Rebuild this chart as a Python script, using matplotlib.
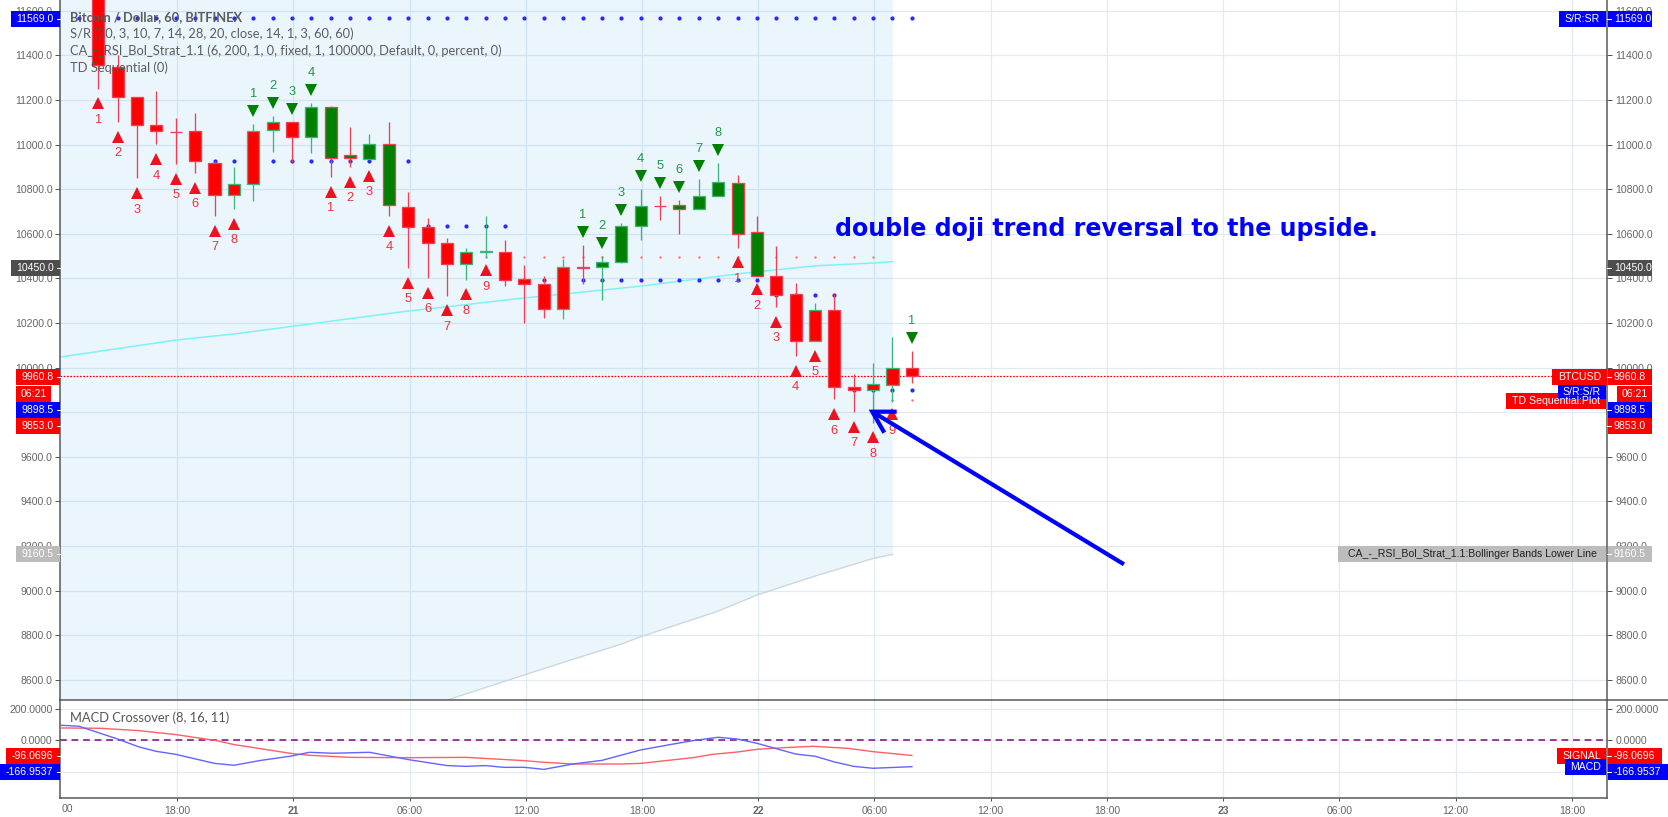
import matplotlib
matplotlib.use("Agg")
import matplotlib.pyplot as plt

W, H = 1668, 817
FONT = ["Liberation Sans", "DejaVu Sans"]
TICK_SIZE = 7.6

# hours counted from 21 00:00
candle_hours = list(range(-10, 33))
body_top = [11700, 11349, 11212, 11086, 11058, 11059, 10916, 10822, 11062, 11100, 11100, 11167, 11167, 10952, 11001, 11001,
            10721, 10632, 10557, 10520, 10521, 10520, 10396, 10373, 10452, 10450, 10475, 10636, 10726, 10725, 10727, 10771,
            10830, 10829, 10606, 10412, 10328, 10257, 10257, 9911, 9925, 9996, 9996]
body_bottom = [11357, 11212, 11086, 11059, 11054, 10925, 10772, 10772, 10822, 11064, 11034, 11034, 10938, 10938, 10934, 10727,
               10632, 10557, 10463, 10463, 10520, 10391, 10373, 10261, 10261, 10448, 10449, 10475, 10636, 10723, 10709, 10709,
               10771, 10600, 10412, 10324, 10118, 10118, 9911, 9898, 9898, 9920, 9961]
wick_high = [11700, 11401, 11212, 11240, 11119, 11140, 10925, 10901, 11091, 11128, 11100, 11188, 11173, 11079, 11047, 11101,
             10787, 10669, 10581, 10535, 10680, 10572, 10460, 10410, 10487, 10550, 10500, 10647, 10799, 10769, 10751, 10844,
             10917, 10863, 10680, 10545, 10378, 10289, 10333, 9970, 10020, 10137, 10074]
wick_low = [11250, 11103, 10851, 11001, 10914, 10874, 10681, 10711, 10748, 10967, 10923, 10964, 10856, 10901, 10934, 10681,
            10446, 10403, 10322, 10394, 10497, 10367, 10201, 10224, 10219, 10376, 10304, 10470, 10573, 10663, 10600, 10709,
            10771, 10538, 10412, 10273, 10053, 10118, 9857, 9802, 9753, 9847, 9929]
# first letter body colour, second letter border and wick colour
candle_kind = ["rr", "rr", "rr", "rr", "rr", "rr", "rr", "rg", "rg", "rg", "rr", "gg", "gr", "gr", "gg", "gr",
               "rr", "rr", "rr", "rg", "gg", "rr", "rr", "rr", "rg", "rr", "gg", "gg", "gg", "rr", "gr", "gg",
               "gg", "gr", "gr", "rr", "rr", "rg", "rr", "rr", "rg", "rg", "rr"]

# TD sequential marks
sell_hours = [-10, -9, -8, -7, -6, -5, -4, -3, 2, 3, 4, 5, 6, 7, 8, 9, 10, 23, 24, 25, 26, 27, 28, 29, 30, 31]
sell_values = [11185, 11035, 10781, 10934, 10847, 10807, 10614, 10645, 10789, 10834, 10860, 10614, 10381, 10336, 10257,
               10328, 10436, 10472, 10351, 10206, 9986, 10053, 9790, 9735, 9689, 9790]
sell_labels = ["1", "2", "3", "4", "5", "6", "7", "8", "1", "2", "3", "4", "5", "6", "7", "8", "9",
               "1", "2", "3", "4", "5", "6", "7", "8", "9"]
buy_hours = [-2, -1, 0, 1, 15, 16, 17, 18, 19, 20, 21, 22, 32]
buy_values = [11149, 11185, 11158, 11243, 10606, 10557, 10705, 10857, 10826, 10808, 10902, 10974, 10132]
buy_labels = ["1", "2", "3", "4", "1", "2", "3", "4", "5", "6", "7", "8", "1"]

# S/R dots
sr_high_hours = list(range(-11, 33))
sr_high_value = 11569
sr_levels = [(range(-4, 7), 10925), (range(6, 12), 10633), (range(12, 25), 10391), (range(25, 29), 10324), (range(29, 33), 9898)]
small_dot_levels = [(range(10, 31), 10497), (range(31, 33), 9853)]

# bollinger lines
upper_hours = [-11.9, -6, -2.75, 5.5, 12, 18, 23, 27, 30.3, 31]
upper_values = [10048, 10123, 10153, 10248, 10312, 10365, 10420, 10456, 10470, 10475]
lower_hours = [-12, 8, 12, 14, 17, 18, 22, 24, 27, 30, 31]
lower_values = [8100, 8509, 8622, 8678, 8760, 8793, 8908, 8980, 9065, 9144, 9162]
last_price = 9960.8

# MACD pane
signal_hours = [-11.9, -9.9, -7.9, -6, -3.9, -3, 0, 0.9, 3, 6, 9, 12, 13, 14.5, 17, 18, 20.7, 21.7, 23, 24, 25.5, 26.9, 28.7, 30, 32]
signal_values = [78, 76, 61, 36, -2, -27, -84, -95, -108, -110, -108, -129, -139, -150, -150, -146, -110, -89, -74, -57, -46, -38, -51, -72, -96]
macd_hours = [-11.9, -11, -9, -7.9, -7, -6, -4, -3, -1.6, 0, 0.9, 2.1, 4, 6, 8, 9, 10, 10.9, 12, 13, 14.5, 16, 18, 19.4, 20.7, 22, 23, 24, 26, 27, 28, 29, 30, 32]
macd_values = [95, 89, 8, -42, -70, -89, -146, -158, -127, -99, -76, -82, -76, -122, -160, -165, -160, -171, -171, -184, -150, -127, -61, -30, -2, 19, 8, -19, -87, -101, -137, -165, -177, -167]

price_ticks = list(range(8600, 11601, 200))
macd_ticks = [200, 0, -200]
time_ticks = [-6, 0, 6, 12, 18, 24, 30, 36, 42, 48, 54, 60, 66]
time_labels = ["18:00", "21", "06:00", "12:00", "18:00", "22", "06:00", "12:00", "18:00", "23", "06:00", "12:00", "18:00"]
legend_lines = ["Bitcoin / Dollar, 60, BITFINEX",
                "S/R (20, 3, 10, 7, 14, 28, 20, close, 14, 1, 3, 60, 60)",
                "CA_-_RSI_Bol_Strat_1.1 (6, 200, 1, 0, fixed, 1, 100000, Default, 0, percent, 0)",
                "TD Sequential (0)"]

RED = "#ff0000"
GREEN = "#008000"
EDGE = {"r": "#ee3f55", "g": "#3fb37c"}
FILL = {"r": RED, "g": GREEN}
BLUE = "#0000ff"
GRID = "#e1ebf1"
SPINE = "#555555"
TICK = "#666666"
GRID_SHIFT = 0.07  # time grid sits a pixel right of the candle centres
XLIM = (-11.95, 67.9)


def px(p):
    return p * 0.72


fig = plt.figure(figsize=(W / 100, H / 100), dpi=100, facecolor="white")
ax = fig.add_axes([60.5 / W, 1 - 700.3 / H, (1607.3 - 60.5) / W, 700.3 / H])
ax2 = fig.add_axes([60.5 / W, 1 - 798.3 / H, (1607.3 - 60.5) / W, 98 / H])

for a in (ax, ax2):
    a.set_xlim(*XLIM)
    a.set_xticks([t + GRID_SHIFT for t in time_ticks])
    a.grid(True, color=GRID, lw=px(1.2), zorder=0)
    a.set_axisbelow(True)
    a.spines["top"].set_visible(False)
    for s in ("left", "right", "bottom"):
        a.spines[s].set_color(SPINE)
        a.spines[s].set_linewidth(px(1.5))
    a.tick_params(axis="y", left=True, right=True, labelleft=True, labelright=True, length=px(5), width=px(1),
                  color=SPINE, labelcolor=TICK, labelsize=TICK_SIZE, pad=px(3))

# price pane
ax.set_ylim(8508, 11648)
ax.set_yticks(price_ticks)
ax.set_yticklabels([f"{v:.1f}" for v in price_ticks], family=FONT)
ax.tick_params(axis="x", bottom=False, labelbottom=False)
ax.spines["bottom"].set_visible(False)

ax.fill_between(lower_hours, lower_values, 11700, color="#1e9be8", alpha=0.09, lw=0, zorder=1)
ax.plot(upper_hours, upper_values, color="#7df3f5", lw=px(1.5), zorder=2)
ax.plot(lower_hours, lower_values, color="#ccd6dc", lw=px(1.3), zorder=2)
ax.axhline(last_price, color=RED, lw=px(1.2), dashes=(1.5, 1.2), zorder=2)

ax.plot(sr_high_hours, [sr_high_value] * len(sr_high_hours), "o", color="#2a2aff", ms=px(4.2), mew=0, zorder=2)
for hours, value in sr_levels:
    ax.plot(list(hours), [value] * len(hours), "o", color="#2a2aff", ms=px(4.2), mew=0, zorder=2)
for hours, value in small_dot_levels:
    ax.plot(list(hours), [value] * len(hours), "o", color="#ff7070", ms=px(2.4), mew=0, zorder=2)

for h, top, bottom, high, low, kind in zip(candle_hours, body_top, body_bottom, wick_high, wick_low, candle_kind):
    edge = EDGE[kind[1]]
    ax.vlines(h, low, high, color=edge, lw=px(1.3), zorder=3)
    ax.bar(h, top - bottom, bottom=bottom, width=0.62, color=FILL[kind[0]], edgecolor=edge, lw=px(1.3), zorder=4)

ax.plot(sell_hours, sell_values, "^", color="#ee1120", ms=px(12), mew=0, zorder=5)
ax.plot(buy_hours, buy_values, "v", color=GREEN, ms=px(12), mew=0, zorder=5)
for h, v, t in zip(sell_hours, sell_values, sell_labels):
    ax.annotate(t, (h, v), xytext=(0, -12), textcoords="offset points", ha="center", va="center",
                color="#f0303f", fontsize=9.3, family=FONT, zorder=5)
for h, v, t in zip(buy_hours, buy_values, buy_labels):
    ax.annotate(t, (h, v), xytext=(0, 12.5), textcoords="offset points", ha="center", va="center",
                color="#1f9a4a", fontsize=9.3, family=FONT, zorder=5)

# macd pane
ax2.set_ylim(-367, 253)
ax2.set_yticks(macd_ticks)
ax2.set_yticklabels([f"{v:.4f}" for v in macd_ticks], family=FONT)
ax2.axhline(0, color="#800080", lw=px(1.5), dashes=(4.5, 3.2), zorder=2)
ax2.plot(signal_hours, signal_values, color="#ff6068", lw=px(1.4), zorder=3)
ax2.plot(macd_hours, macd_values, color="#6464ff", lw=px(1.4), zorder=3)
ax2.tick_params(axis="x", length=px(3), width=px(1), color=SPINE, labelcolor=TICK, labelsize=TICK_SIZE, pad=px(5))
ax2.set_xticklabels(time_labels, family=FONT)
for lab, text in zip(ax2.get_xticklabels(), time_labels):
    if ":" not in text:
        lab.set_fontweight("bold")

# everything in screen position goes on a full size overlay
ov = fig.add_axes([0, 0, 1, 1], zorder=10)
ov.set_xlim(0, W)
ov.set_ylim(H, 0)
ov.axis("off")
ov.patch.set_alpha(0)

ov.text(67.6, 809, "00", ha="center", va="center", color=TICK, fontsize=TICK_SIZE, family=FONT)
ov.plot([60, W], [700.3, 700.3], color=SPINE, lw=px(1.5))

for i, line in enumerate(legend_lines):
    ov.text(70, 16.7 + 17 * i, line, ha="left", va="center", color="#555555", fontsize=9.3, family="Lato",
            fontweight="bold" if i == 0 else "normal", alpha=0.95)
ov.text(70, 717.7, "MACD Crossover (8, 16, 11)", ha="left", va="center", color="#555555", fontsize=9.3, family="Lato")

ov.text(835, 229, "double doji trend reversal to the upside.", ha="left", va="center", color=BLUE,
        fontsize=17.15, fontweight="bold", family="DejaVu Sans")

# arrow
ov.plot([1124, 872.3], [564.3, 411.7], color=BLUE, lw=px(4.2), solid_capstyle="butt")
ov.plot([896.7, 872.3, 884.3], [411.7, 411.7, 432.7], color=BLUE, lw=px(4.2), solid_capstyle="butt", solid_joinstyle="miter")


def tag(x0, x1, y0, y1, color, text, tx=None, ha="center", tick=None):
    ov.fill_between([x0, x1], y0, y1, color=color, lw=0)
    if tx is None:
        tx = (x0 + x1) / 2
    ov.text(tx, (y0 + y1) / 2, text, ha=ha, va="center", color="white", fontsize=TICK_SIZE, family=FONT)
    if tick is not None:
        ov.plot(tick, [(y0 + y1) / 2] * 2, color="white", lw=px(1))


def side_tags(y0, y1, color, text, left0=16, right1=1652):
    tag(left0, 60, y0, y1, color, text, tx=53.5, ha="right", tick=(57, 60.5))
    tag(1608, right1, y0, y1, color, text, tx=1614, ha="left", tick=(1607.5, 1611))


side_tags(11, 27, BLUE, "11569.0", left0=11)
side_tags(260, 276, "#4d4d4d", "10450.0", left0=11)
side_tags(369, 385, RED, "9960.8")
tag(16, 51, 386, 402, RED, "06:21")
tag(1617, 1652, 386, 402, RED, "06:21")
side_tags(402, 418, BLUE, "9898.5")
side_tags(418, 434, RED, "9853.0")
side_tags(546, 562, "#bcbcbc", "9160.5", left0=16)
side_tags(748, 764, RED, "-96.0696", left0=6, right1=1662)
side_tags(764, 780, BLUE, "-166.9537", left0=0, right1=1668)

tag(1559, 1606, 11, 27, BLUE, "S/R:SR")
tag(1552, 1607, 369, 385, RED, "BTCUSD")
tag(1506, 1606, 393, 409, RED, "TD Sequential:Plot")
tag(1558, 1606, 385, 399, BLUE, "S/R:S/R")
tag(1338, 1606, 546, 562, "#bcbcbc", "CA_-_RSI_Bol_Strat_1.1:Bollinger Bands Lower Line")
ov.texts[-1].set_color("#222222")
tag(1557, 1606, 748, 764, RED, "SIGNAL")
tag(1565, 1606, 759, 775, BLUE, "MACD")

fig.savefig("out.png", dpi=100)
